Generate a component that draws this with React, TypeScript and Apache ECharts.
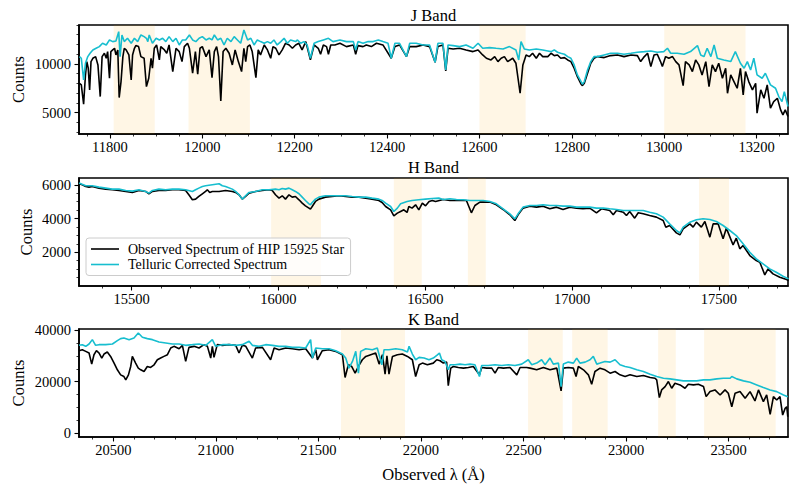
import React, { useEffect, useRef } from "react";
import * as echarts from "echarts";

const observedLabel = "Observed Spectrum of HIP 15925 Star";
const correctedLabel = "Telluric Corrected Spectrum";

// ---------- J band ----------
const jObserved: [number, number][] = [
  [11734, 8015], [11738, 7844], [11743, 5858], [11747, 8871], [11750, 10240], [11753, 9555], [11756, 7330], [11759, 10240],
  [11763, 10582], [11769, 10753], [11774, 9897], [11779, 6646], [11783, 10753], [11788, 11095], [11792, 10582], [11795, 11267],
  [11799, 8528], [11802, 11267], [11806, 11438], [11810, 11609], [11813, 10924], [11817, 11438], [11820, 6543], [11824, 8186],
  [11828, 10753], [11831, 11609], [11835, 11438], [11841, 10924], [11846, 8357], [11849, 10924], [11853, 11609], [11856, 11883],
  [11862, 11780], [11867, 10753], [11874, 10582], [11879, 7672], [11884, 8528], [11889, 10582], [11892, 9555], [11896, 11609],
  [11901, 11951], [11907, 10411], [11910, 11780], [11918, 11438], [11923, 11095], [11928, 11951], [11936, 9213], [11943, 11609],
  [11950, 11267], [11956, 10240], [11961, 11780], [11968, 12122], [11972, 11609], [11979, 9042], [11985, 11267], [11990, 8939],
  [11995, 11609], [12000, 11780], [12008, 10753], [12015, 11438], [12021, 8597], [12026, 11267], [12031, 11780], [12035, 10753],
  [12040, 6201], [12045, 11267], [12051, 11609], [12058, 11095], [12065, 9897], [12071, 11438], [12078, 10240], [12085, 9213],
  [12090, 11609], [12094, 10240], [12098, 11780], [12103, 11951], [12108, 11267], [12116, 8597], [12121, 11438], [12126, 10924],
  [12134, 11951], [12141, 11438], [12148, 10582], [12153, 11780], [12159, 11609], [12166, 10924], [12173, 11438], [12180, 12122],
  [12188, 11951], [12195, 11609], [12202, 11951], [12209, 12122], [12216, 11438], [12224, 12294], [12234, 10411], [12242, 11951],
  [12251, 11609], [12256, 10993], [12262, 11951], [12269, 11780], [12273, 10993], [12278, 11951], [12287, 11951], [12298, 12122],
  [12312, 11780], [12327, 11951], [12332, 10993], [12337, 11883], [12348, 11780], [12355, 11951], [12366, 11780], [12377, 12122],
  [12391, 11951], [12409, 10582], [12417, 11780], [12427, 11951], [12442, 10753], [12449, 11780], [12463, 11780], [12478, 11951],
  [12492, 11780], [12504, 10171], [12510, 11780], [12521, 11951], [12527, 9281], [12532, 11609], [12543, 11540], [12557, 11609],
  [12571, 11438], [12586, 11267], [12597, 11438], [12607, 10924], [12615, 10582], [12625, 10411], [12633, 10753], [12640, 10240],
  [12647, 10582], [12654, 10753], [12661, 10240], [12672, 10582], [12679, 10068], [12688, 6988], [12694, 9897], [12701, 10924],
  [12708, 10753], [12715, 11095], [12723, 10582], [12730, 11095], [12737, 10753], [12748, 10753], [12755, 11095], [12762, 10856],
  [12769, 10924], [12776, 10582], [12784, 10651], [12791, 10411], [12798, 10240], [12805, 9555], [12812, 8699], [12820, 7912],
  [12823, 7775], [12827, 8015], [12834, 9042], [12841, 10068], [12848, 10582], [12856, 10753], [12870, 10651], [12884, 10856],
  [12899, 10924], [12913, 10753], [12928, 10924], [12942, 10856], [12949, 10240], [12957, 10753], [12964, 11095], [12971, 9726],
  [12978, 10924], [12985, 10993], [12992, 10240], [12996, 9726], [13003, 10753], [13010, 10582], [13018, 10753], [13025, 10240],
  [13032, 9897], [13041, 7775], [13046, 10240], [13054, 9897], [13061, 9213], [13068, 10411], [13075, 9897], [13082, 8871],
  [13090, 10240], [13097, 7672], [13104, 9897], [13111, 9213], [13118, 10068], [13126, 8528], [13133, 9555], [13137, 6988],
  [13144, 8871], [13151, 8186], [13158, 7501], [13165, 9555], [13171, 6817], [13176, 9213], [13183, 8186], [13191, 7330],
  [13198, 8015], [13201, 4934], [13209, 7330], [13216, 6474], [13223, 7844], [13230, 5448], [13237, 6132], [13245, 6474],
  [13252, 5276], [13257, 4763], [13262, 5276], [13268, 4592],
];

const jCorrected: [number, number][] = [
  [11734, 10753], [11738, 10582], [11743, 8357], [11747, 10068], [11752, 10753], [11757, 11095], [11763, 11438], [11770, 11609],
  [11777, 11780], [11784, 12122], [11792, 11951], [11799, 12465], [11806, 12294], [11813, 12362], [11819, 13320], [11822, 10753],
  [11826, 12978], [11831, 12294], [11838, 12636], [11846, 12122], [11853, 12636], [11860, 12294], [11867, 12978], [11874, 12807],
  [11879, 12636], [11882, 12294], [11885, 12978], [11892, 12122], [11900, 12636], [11907, 12465], [11914, 12636], [11921, 12294],
  [11928, 12807], [11936, 12294], [11943, 12636], [11950, 11951], [11957, 12465], [11964, 12465], [11972, 12978], [11979, 12465],
  [11986, 12294], [11993, 12636], [12000, 12807], [12008, 12465], [12015, 12636], [12021, 12465], [12026, 12978], [12033, 12465],
  [12040, 12636], [12047, 11951], [12054, 12636], [12062, 12294], [12069, 12807], [12076, 12465], [12083, 12122], [12090, 13491],
  [12098, 12465], [12105, 12636], [12112, 11951], [12119, 12465], [12126, 12294], [12134, 12122], [12141, 12294], [12148, 12122],
  [12155, 12465], [12162, 11951], [12170, 12294], [12177, 12636], [12184, 12122], [12191, 12465], [12202, 12294], [12206, 12465],
  [12213, 12122], [12220, 12294], [12227, 11951], [12234, 10582], [12242, 12122], [12251, 12294], [12262, 12465], [12273, 12636],
  [12283, 12294], [12298, 12465], [12312, 12294], [12327, 12294], [12332, 11438], [12337, 12294], [12348, 12122], [12359, 12294],
  [12370, 12294], [12381, 12465], [12391, 12294], [12402, 12122], [12409, 10582], [12417, 12122], [12427, 12122], [12442, 10753],
  [12449, 12122], [12463, 12122], [12478, 11951], [12492, 11951], [12504, 10171], [12510, 12122], [12521, 12122], [12527, 9384],
  [12532, 11951], [12543, 11883], [12557, 11780], [12571, 11951], [12586, 11609], [12597, 12122], [12607, 11609], [12622, 11677],
  [12636, 11609], [12651, 11540], [12665, 11780], [12679, 11438], [12685, 10411], [12690, 12294], [12697, 11540], [12708, 11438],
  [12723, 11540], [12737, 11438], [12748, 11335], [12755, 11267], [12762, 11438], [12769, 11198], [12776, 11095], [12784, 10993],
  [12791, 10753], [12798, 10582], [12805, 9897], [12812, 8871], [12820, 8186], [12823, 7912], [12827, 8186], [12834, 9384],
  [12841, 10240], [12848, 10753], [12856, 10753], [12870, 10924], [12884, 11095], [12899, 11095], [12913, 10993], [12928, 11095],
  [12942, 11198], [12957, 11267], [12971, 11335], [12985, 11198], [12999, 11267], [13007, 11609], [13014, 11095], [13028, 11095],
  [13043, 10993], [13057, 11267], [13072, 11883], [13079, 10924], [13086, 10753], [13093, 11609], [13101, 10753], [13108, 11951],
  [13115, 10582], [13129, 10411], [13144, 10240], [13154, 11267], [13165, 10068], [13173, 9555], [13180, 10240], [13187, 9384],
  [13194, 10582], [13201, 8871], [13212, 8528], [13219, 9042], [13230, 7844], [13241, 7501], [13248, 6646], [13255, 6132],
  [13260, 7159], [13268, 5619],
];

// ---------- H band ----------
const hObserved: [number, number][] = [
  [15321, 6058], [15332, 5998], [15344, 5900], [15355, 5860], [15366, 5900], [15389, 5801], [15412, 5741], [15434, 5702],
  [15457, 5662], [15480, 5603], [15503, 5544], [15525, 5662], [15548, 5603], [15559, 5465], [15571, 5603], [15593, 5662],
  [15616, 5662], [15639, 5702], [15661, 5702], [15684, 5662], [15695, 5405], [15707, 5108], [15718, 5148], [15729, 5306],
  [15741, 5465], [15752, 5603], [15758, 5702], [15766, 5544], [15775, 5603], [15798, 5603], [15820, 5662], [15843, 5603],
  [15854, 5544], [15866, 5405], [15877, 5148], [15888, 5306], [15900, 5504], [15922, 5603], [15945, 5662], [15968, 5702],
  [15979, 5662], [15990, 5405], [16002, 5207], [16013, 5346], [16024, 5148], [16036, 5405], [16047, 5267], [16058, 5306],
  [16070, 5108], [16081, 4911], [16092, 4752], [16104, 4614], [16109, 4555], [16115, 4713], [16126, 5010], [16138, 5148],
  [16160, 5267], [16183, 5306], [16206, 5346], [16229, 5306], [16251, 5267], [16274, 5267], [16297, 5207], [16319, 5148],
  [16342, 5069], [16353, 4950], [16365, 4713], [16382, 4515], [16393, 4159], [16405, 4317], [16416, 4416], [16427, 4515],
  [16438, 4357], [16444, 4713], [16455, 4614], [16467, 4812], [16478, 4515], [16490, 4911], [16501, 4752], [16513, 5010],
  [16524, 5069], [16535, 5010], [16561, 5128], [16584, 5069], [16606, 5069], [16640, 5069], [16657, 4337], [16669, 4772],
  [16686, 4970], [16720, 4970], [16742, 4812], [16765, 4535], [16788, 4218], [16805, 3882], [16816, 4218], [16833, 4614],
  [16856, 4732], [16879, 4673], [16901, 4732], [16924, 4574], [16947, 4673], [16969, 4535], [16992, 4673], [17015, 4614],
  [17037, 4574], [17060, 4614], [17083, 4337], [17100, 4574], [17128, 4475], [17140, 4218], [17151, 4475], [17174, 4376],
  [17185, 4179], [17196, 4416], [17213, 4020], [17225, 4337], [17242, 4277], [17264, 4179], [17287, 4080], [17310, 3882],
  [17319, 3486], [17332, 3585], [17355, 3150], [17367, 3031], [17378, 3387], [17401, 3684], [17412, 3486], [17423, 3783],
  [17440, 3486], [17452, 3823], [17469, 2893], [17480, 3684], [17497, 3684], [17514, 2794], [17525, 3427], [17548, 2438],
  [17559, 2834], [17571, 2201], [17582, 2398], [17605, 1805], [17627, 1508], [17639, 1409], [17656, 658], [17667, 1014],
  [17684, 717], [17707, 520], [17730, 382], [17737, 322],
];

const hCorrected: [number, number][] = [
  [15321, 6097], [15344, 5939], [15366, 5939], [15389, 5860], [15412, 5801], [15434, 5741], [15457, 5741], [15480, 5662],
  [15503, 5623], [15525, 5702], [15548, 5603], [15559, 5504], [15571, 5662], [15593, 5741], [15616, 5702], [15639, 5741],
  [15661, 5741], [15684, 5702], [15707, 5603], [15718, 5702], [15729, 5801], [15741, 5900], [15752, 5939], [15775, 5998],
  [15798, 6058], [15809, 5939], [15820, 5900], [15843, 5741], [15854, 5603], [15866, 5405], [15877, 5148], [15888, 5346],
  [15900, 5544], [15922, 5603], [15945, 5702], [15968, 5702], [15990, 5741], [16002, 5702], [16013, 5781], [16024, 5741],
  [16036, 5801], [16047, 5702], [16058, 5603], [16070, 5465], [16081, 5267], [16092, 5069], [16104, 4871], [16109, 4812],
  [16115, 4950], [16126, 5148], [16138, 5267], [16160, 5346], [16183, 5346], [16206, 5346], [16229, 5346], [16251, 5306],
  [16274, 5267], [16297, 5267], [16319, 5207], [16342, 5148], [16353, 5069], [16365, 4911], [16382, 4713], [16393, 4416],
  [16405, 4614], [16416, 4871], [16438, 5010], [16455, 5069], [16478, 5108], [16501, 5148], [16524, 5187], [16546, 5207],
  [16561, 5128], [16584, 5168], [16606, 5128], [16629, 5108], [16652, 5069], [16674, 5069], [16697, 5069], [16720, 5009],
  [16742, 4871], [16765, 4574], [16788, 4277], [16805, 3981], [16816, 4277], [16833, 4673], [16856, 4772], [16879, 4772],
  [16901, 4812], [16924, 4772], [16947, 4772], [16969, 4732], [16992, 4732], [17015, 4673], [17037, 4673], [17060, 4673],
  [17083, 4614], [17106, 4614], [17128, 4574], [17151, 4535], [17174, 4475], [17196, 4475], [17219, 4475], [17242, 4475],
  [17264, 4376], [17287, 4277], [17310, 4080], [17332, 3684], [17355, 3289], [17367, 3150], [17378, 3486], [17401, 3783],
  [17423, 3922], [17446, 3981], [17469, 3941], [17491, 3823], [17514, 3585], [17537, 3289], [17559, 2992], [17582, 2497],
  [17605, 2003], [17627, 1607], [17650, 1311], [17673, 1014], [17695, 816], [17718, 579], [17737, 421],
];

// ---------- K band ----------
const kObserved: [number, number][] = [
  [20333, 32040], [20349, 32433], [20366, 31779], [20382, 31125], [20395, 26813], [20406, 30472], [20418, 32040], [20431, 31125],
  [20444, 29165], [20455, 30733], [20471, 31518], [20487, 29819], [20504, 27204], [20520, 24591], [20536, 22630], [20552, 21977],
  [20561, 20670], [20574, 22630], [20585, 25898], [20593, 29819], [20609, 27204], [20622, 25244], [20634, 24591], [20650, 23937],
  [20666, 25898], [20682, 25505], [20699, 26551], [20715, 28512], [20731, 29165], [20747, 29819], [20764, 30472], [20780, 33086],
  [20796, 33740], [20821, 32825], [20837, 34131], [20853, 27858], [20869, 33347], [20894, 33740], [20918, 33086], [20942, 34393],
  [20959, 33740], [20975, 29165], [20983, 33740], [20991, 29426], [21007, 34393], [21032, 34131], [21064, 34393], [21097, 34131],
  [21113, 31125], [21129, 34131], [21146, 33740], [21178, 29165], [21194, 33086], [21227, 33347], [21267, 28512], [21284, 33086],
  [21308, 32433], [21341, 33086], [21373, 32825], [21406, 32433], [21438, 32825], [21471, 29165], [21487, 32433], [21495, 28512],
  [21519, 32040], [21552, 32433], [21584, 31779], [21617, 30472], [21630, 21584], [21646, 26551], [21662, 25898], [21679, 23284],
  [21695, 25898], [21714, 28512], [21731, 29819], [21755, 30472], [21779, 31125], [21796, 26813], [21812, 30472], [21825, 22891],
  [21834, 30000], [21844, 22891], [21861, 29819], [21885, 30472], [21909, 30733], [21934, 29819], [21958, 28512], [21974, 21977],
  [21991, 26551], [22007, 27204], [22031, 26551], [22060, 27204], [22077, 28512], [22093, 28120], [22109, 27204], [22125, 27597],
  [22133, 18448], [22145, 25244], [22158, 25898], [22182, 25505], [22207, 25244], [22231, 25505], [22255, 25898], [22285, 22630],
  [22296, 25505], [22320, 25244], [22345, 25244], [22361, 23284], [22377, 25505], [22402, 25244], [22434, 25505], [22467, 22630],
  [22483, 25505], [22515, 25505], [22532, 25244], [22564, 24591], [22597, 25505], [22629, 24591], [22662, 25244], [22683, 16356],
  [22694, 25244], [22718, 25505], [22743, 25244], [22756, 21977], [22767, 25898], [22792, 24591], [22816, 22630], [22832, 18971],
  [22848, 23937], [22873, 25244], [22897, 24591], [22922, 23284], [22946, 23937], [22970, 22630], [22995, 21977], [23019, 22630],
  [23052, 21977], [23084, 22369], [23117, 21584], [23141, 21323], [23149, 20670], [23162, 13742], [23173, 16749], [23190, 18056],
  [23206, 20016], [23222, 17402], [23238, 19363], [23263, 18709], [23287, 17402], [23303, 18971], [23328, 18709], [23352, 18971],
  [23377, 18056], [23390, 14135], [23409, 16095], [23433, 16749], [23458, 14788], [23482, 16749], [23498, 15442], [23515, 10214],
  [23531, 15442], [23555, 16095], [23580, 13481], [23604, 16095], [23628, 12435], [23645, 16749], [23669, 12174], [23685, 14788],
  [23702, 7208], [23718, 14135], [23734, 12828], [23750, 14135], [23763, 6946], [23775, 9560], [23783, 10214], [23788, 6293],
];

const kCorrected: [number, number][] = [
  [20333, 34131], [20349, 34393], [20366, 33740], [20382, 34654], [20398, 36354], [20414, 34131], [20431, 34393], [20463, 34393],
  [20496, 34654], [20520, 35961], [20536, 36746], [20552, 37007], [20577, 36354], [20601, 37007], [20622, 38968], [20642, 37268],
  [20666, 36746], [20691, 36354], [20723, 35439], [20756, 35047], [20788, 34654], [20821, 34654], [20853, 34131], [20886, 34393],
  [20918, 34654], [20951, 34131], [20983, 36354], [20999, 33740], [21032, 34393], [21064, 34393], [21097, 34131], [21129, 34393],
  [21162, 35700], [21178, 34131], [21211, 33740], [21243, 34393], [21276, 34131], [21308, 33740], [21341, 33740], [21373, 33347],
  [21406, 33347], [21438, 33086], [21462, 36354], [21471, 29165], [21487, 33086], [21519, 32825], [21552, 32825], [21584, 32040],
  [21617, 30733], [21633, 29165], [21649, 25244], [21666, 27858], [21682, 31779], [21695, 23284], [21706, 31779], [21731, 32825],
  [21763, 32433], [21787, 33086], [21809, 26551], [21820, 32433], [21844, 32433], [21877, 32825], [21909, 32433], [21934, 31518],
  [21942, 33740], [21958, 30733], [21974, 28512], [21991, 29426], [22015, 29165], [22039, 28512], [22060, 29165], [22077, 30211],
  [22090, 31125], [22101, 28512], [22117, 27858], [22133, 24591], [22142, 26551], [22166, 26551], [22190, 26813], [22215, 26551],
  [22239, 26813], [22263, 26551], [22285, 21977], [22296, 26290], [22328, 26290], [22361, 26551], [22393, 26290], [22426, 26551],
  [22458, 26290], [22491, 26813], [22523, 28512], [22540, 26551], [22564, 27204], [22588, 28512], [22605, 26551], [22629, 29165],
  [22645, 26813], [22670, 27204], [22683, 18056], [22694, 26813], [22718, 27597], [22743, 27204], [22759, 29165], [22775, 27204],
  [22800, 27597], [22824, 28512], [22840, 29819], [22857, 26813], [22873, 27204], [22897, 27858], [22922, 27597], [22946, 28512],
  [22970, 26551], [22995, 25898], [23019, 25505], [23052, 24591], [23084, 23937], [23117, 22891], [23149, 21977], [23182, 21323],
  [23214, 21062], [23247, 20670], [23279, 20278], [23312, 20278], [23344, 20278], [23377, 20670], [23409, 20670], [23442, 21062],
  [23474, 21323], [23507, 21323], [23515, 21977], [23539, 21062], [23572, 20278], [23604, 19755], [23637, 18709], [23669, 17663],
  [23702, 16749], [23734, 16095], [23767, 14788], [23788, 14135],
];

// shaded (telluric) wavelength ranges
const jBands: [number, number][] = [[11808, 11897], [11970, 12103], [12600, 12700], [13000, 13176]];
const hBands: [number, number][] = [[15975, 16145], [16393, 16488], [16645, 16706], [17432, 17534]];
const kBands: [number, number][] = [[21610, 21922], [22522, 22691], [22737, 22910], [23156, 23242], [23380, 23729]];

// tick labels
const jXTicks = [11800, 12000, 12200, 12400, 12600, 12800, 13000, 13200];
const hXTicks = [15500, 16000, 16500, 17000, 17500];
const kXTicks = [20500, 21000, 21500, 22000, 22500, 23000, 23500];
const jYTicks = [5000, 10000];
const hYTicks = [2000, 4000, 6000];
const kYTicks = [0, 20000, 40000];

const FONT = "'Liberation Serif', 'DejaVu Serif', serif";
const CYAN = "#17becf";

function minorTicks(min: number, max: number, step: number, major: number): number[] {
  const out: number[] = [];
  for (let v = Math.ceil(min / step) * step; v <= max; v += step) {
    if (Math.abs(v % major) > 1e-6) out.push(v);
  }
  return out;
}

const panels = [
  {
    title: "J Band", top: 25, height: 109, xMin: 11733, xMax: 13268, yMin: 2800, yMax: 14000,
    xTicks: jXTicks, xMinor: 50, xMajor: 200, yTicks: jYTicks, yMinor: 1000, yMajor: 5000,
    obs: jObserved, cor: jCorrected, bands: jBands, titleY: 15.5, countsX: 18,
  },
  {
    title: "H Band", top: 178, height: 108, xMin: 15321, xMax: 17735, yMin: 0, yMax: 6400,
    xTicks: hXTicks, xMinor: 100, xMajor: 500, yTicks: hYTicks, yMinor: 500, yMajor: 2000,
    obs: hObserved, cor: hCorrected, bands: hBands, titleY: 167.3, countsX: 26,
  },
  {
    title: "K Band", top: 329, height: 108, xMin: 20333, xMax: 23789, yMin: -1600, yMax: 40500,
    xTicks: kXTicks, xMinor: 100, xMajor: 500, yTicks: kYTicks, yMinor: 5000, yMajor: 20000,
    obs: kObserved, cor: kCorrected, bands: kBands, titleY: 319.5, countsX: 18,
  },
];

const LEFT = 79;
const WIDTH = 709;

export default function App() {
  const ref = useRef<HTMLDivElement>(null);

  useEffect(() => {
    document.body.style.margin = "0";
    if (!ref.current) return;
    const chart = echarts.init(ref.current, undefined, { renderer: "svg" });

    const grid: any[] = [];
    const xAxis: any[] = [];
    const yAxis: any[] = [];
    const series: any[] = [];
    const graphic: any[] = [];

    panels.forEach((p, i) => {
      grid.push({
        left: LEFT, top: p.top, width: WIDTH, height: p.height,
        show: true, borderColor: "#000", borderWidth: 1.6, backgroundColor: "transparent",
      });
      const labelStyle = { fontFamily: FONT, fontSize: 14.5, color: "#000" };
      xAxis.push({
        type: "value", gridIndex: i, position: "bottom", min: p.xMin, max: p.xMax,
        axisLine: { show: true, onZero: false, lineStyle: { color: "#000", width: 1.6 } },
        axisTick: { show: true, customValues: p.xTicks, length: 4.5, lineStyle: { color: "#000", width: 1.1 } },
        axisLabel: { ...labelStyle, customValues: p.xTicks, margin: 5, formatter: (v: number) => String(v) },
        splitLine: { show: false },
      });
      xAxis.push({
        type: "value", gridIndex: i, position: "bottom", min: p.xMin, max: p.xMax,
        axisLine: { show: false, onZero: false },
        axisTick: { show: true, customValues: minorTicks(p.xMin, p.xMax, p.xMinor, p.xMajor), length: 2.5, lineStyle: { color: "#000", width: 0.8 } },
        axisLabel: { show: false },
        splitLine: { show: false },
      });
      yAxis.push({
        type: "value", gridIndex: i, position: "left", min: p.yMin, max: p.yMax,
        axisLine: { show: true, onZero: false, lineStyle: { color: "#000", width: 1.6 } },
        axisTick: { show: true, customValues: p.yTicks, length: 4.5, lineStyle: { color: "#000", width: 1.1 } },
        axisLabel: { ...labelStyle, customValues: p.yTicks, margin: 8, formatter: (v: number) => String(v) },
        splitLine: { show: false },
      });
      yAxis.push({
        type: "value", gridIndex: i, position: "left", min: p.yMin, max: p.yMax,
        axisLine: { show: false, onZero: false },
        axisTick: { show: true, customValues: minorTicks(p.yMin, p.yMax, p.yMinor, p.yMajor), length: 2.5, lineStyle: { color: "#000", width: 0.8 } },
        axisLabel: { show: false },
        splitLine: { show: false },
      });

      series.push({
        type: "line", name: observedLabel, xAxisIndex: 2 * i, yAxisIndex: 2 * i,
        data: p.obs, showSymbol: false, symbol: "none", clip: true,
        lineStyle: { color: "#000", width: 1.6 }, itemStyle: { color: "#000" },
        markArea: {
          silent: true,
          itemStyle: { color: "rgba(255,165,0,0.1)" },
          data: p.bands.map(([a, b]) => [{ xAxis: a }, { xAxis: b }]),
        },
      });
      series.push({
        type: "line", name: correctedLabel, xAxisIndex: 2 * i, yAxisIndex: 2 * i,
        data: p.cor, showSymbol: false, symbol: "none", clip: true,
        lineStyle: { color: CYAN, width: 1.6 }, itemStyle: { color: CYAN },
      });

      graphic.push({
        type: "text", x: LEFT + WIDTH / 2, y: p.titleY,
        style: { text: p.title, font: `16.5px ${FONT}`, fill: "#000", textAlign: "center", textVerticalAlign: "middle" },
      });
      graphic.push({
        type: "text", x: p.countsX, y: p.top + p.height / 2, rotation: Math.PI / 2,
        style: { text: "Counts", font: `16.5px ${FONT}`, fill: "#000", textAlign: "center", textVerticalAlign: "middle" },
      });
    });

    graphic.push({
      type: "text", x: LEFT + WIDTH / 2, y: 474.5,
      style: { text: "Observed λ (Å)", font: `16.5px ${FONT}`, fill: "#000", textAlign: "center", textVerticalAlign: "middle" },
    });

    chart.setOption({
      animation: false,
      backgroundColor: "#fff",
      grid, xAxis, yAxis, series, graphic,
      legend: {
        data: [
          { name: observedLabel, icon: "rect", itemStyle: { color: "#000" } },
          { name: correctedLabel, icon: "rect", itemStyle: { color: CYAN } },
        ],
        orient: "vertical", left: 86, top: 238,
        itemWidth: 28, itemHeight: 1.6, itemGap: 1.5,
        padding: [4, 6, 4, 5],
        backgroundColor: "rgba(255,255,255,0.8)",
        borderColor: "#cccccc", borderWidth: 1, borderRadius: 3,
        selectedMode: false,
        textStyle: { fontFamily: FONT, fontSize: 14, color: "#000", padding: [0, 0, 0, 4] },
      },
    });

    return () => chart.dispose();
  }, []);

  return <div ref={ref} style={{ width: 789, height: 486 }} />;
}
